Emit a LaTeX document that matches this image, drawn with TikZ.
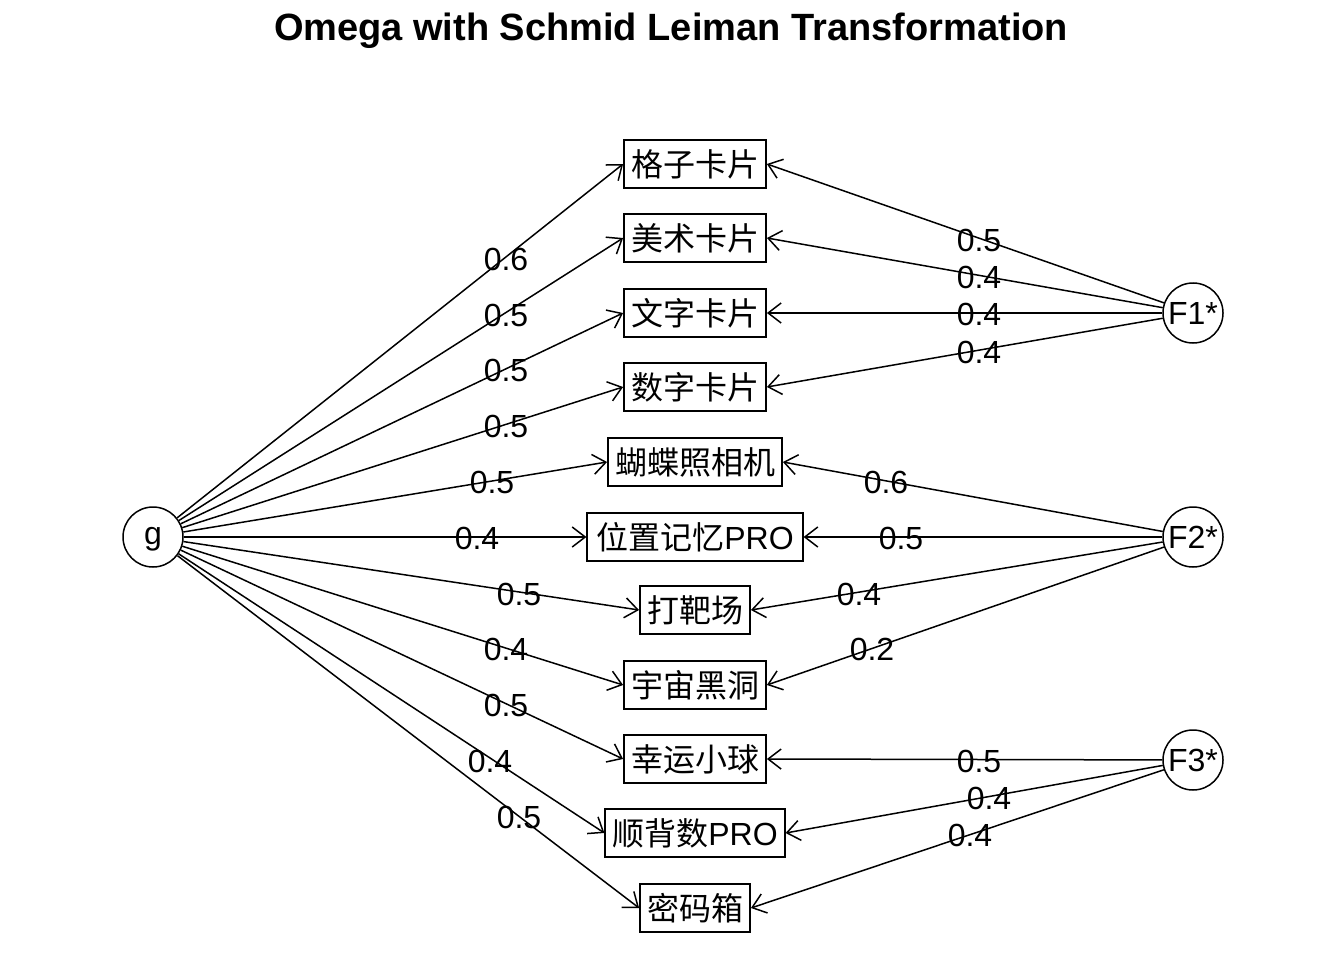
\documentclass[tikz,border=0pt]{standalone}
\usepackage{fontspec}
\setmainfont{Liberation Sans}
\newfontfamily\cjk{Noto Sans CJK SC}
\usetikzlibrary{arrows.meta}
\begin{document}
\begin{tikzpicture}[x=1pt,y=-1pt,
 var/.style={draw, line width=1.8pt, minimum height=48pt, inner xsep=7pt, inner ysep=0pt, font=\fontsize{32}{32}\selectfont},
 fac/.style={draw, circle, line width=1.5pt, minimum size=60pt, inner sep=0pt, font=\fontsize{32}{32}\selectfont},
 lbl/.style={font=\fontsize{32}{32}\selectfont, inner sep=0pt},
 arr/.style={line width=1.5pt, -{Straight Barb[length=13pt,width=20pt,line width=1.5pt]}}]
\useasboundingbox (0,0) rectangle (1344,960);
\node[font=\bfseries\fontsize{38}{38}\selectfont] (title) at (671,31) {Omega with Schmid Leiman Transformation};
% observed variables
\node[var] (v1) at (695,164) {\cjk 格子卡片};
\node[var] (v2) at (695,238) {\cjk 美术卡片};
\node[var] (v3) at (695,313) {\cjk 文字卡片};
\node[var] (v4) at (695,387) {\cjk 数字卡片};
\node[var] (v5) at (695,462) {\cjk 蝴蝶照相机};
\node[var, inner xsep=9pt] (v6) at (695,537) {{\cjk 位置记忆}PRO};
\node[var] (v7) at (695,610) {\cjk 打靶场};
\node[var] (v8) at (695,685) {\cjk 宇宙黑洞};
\node[var] (v9) at (695,759) {\cjk 幸运小球};
\node[var] (v10) at (695,833) {{\cjk 顺背数}PRO};
\node[var] (v11) at (695,908) {\cjk 密码箱};
% factors
\node[fac] (g) at (153,537) {g\vphantom{F}};
\node[fac] (F1) at (1193,313) {F1*};
\node[fac] (F2) at (1193,537) {F2*};
\node[fac] (F3) at (1193,760) {F3*};
% g loadings
\foreach \i in {1,...,11} {\draw[arr] (g) -- (v\i.west);}
% group factor loadings
\foreach \i in {1,2,3,4} {\draw[arr] (F1) -- (v\i.east);}
\foreach \i in {5,6,7,8} {\draw[arr] (F2) -- (v\i.east);}
\foreach \i in {9,10,11} {\draw[arr] (F3) -- (v\i.east);}
% labels g
\node[lbl] (l1) at (506,259) {0.6};
\node[lbl] (l2) at (506,315) {0.5};
\node[lbl] (l3) at (506,370) {0.5};
\node[lbl] (l4) at (506,426) {0.5};
\node[lbl] (l5) at (492,482) {0.5};
\node[lbl] (l6) at (477,538) {0.4};
\node[lbl] (l7) at (519,594) {0.5};
\node[lbl] (l8) at (506,649) {0.4};
\node[lbl] (l9) at (506,705) {0.5};
\node[lbl] (l10) at (490,761) {0.4};
\node[lbl] (l11) at (519,817) {0.5};
% labels F1
\node[lbl] (m1) at (979,240) {0.5};
\node[lbl] (m2) at (979,277) {0.4};
\node[lbl] (m3) at (979,314) {0.4};
\node[lbl] (m4) at (979,352) {0.4};
% labels F2
\node[lbl] (m5) at (886,482) {0.6};
\node[lbl] (m6) at (901,538) {0.5};
\node[lbl] (m7) at (859,594) {0.4};
\node[lbl] (m8) at (872,649) {0.2};
% labels F3
\node[lbl] (m9) at (979,761) {0.5};
\node[lbl] (m10) at (989,798) {0.4};
\node[lbl] (m11) at (970,835) {0.4};
\end{tikzpicture}
\end{document}
